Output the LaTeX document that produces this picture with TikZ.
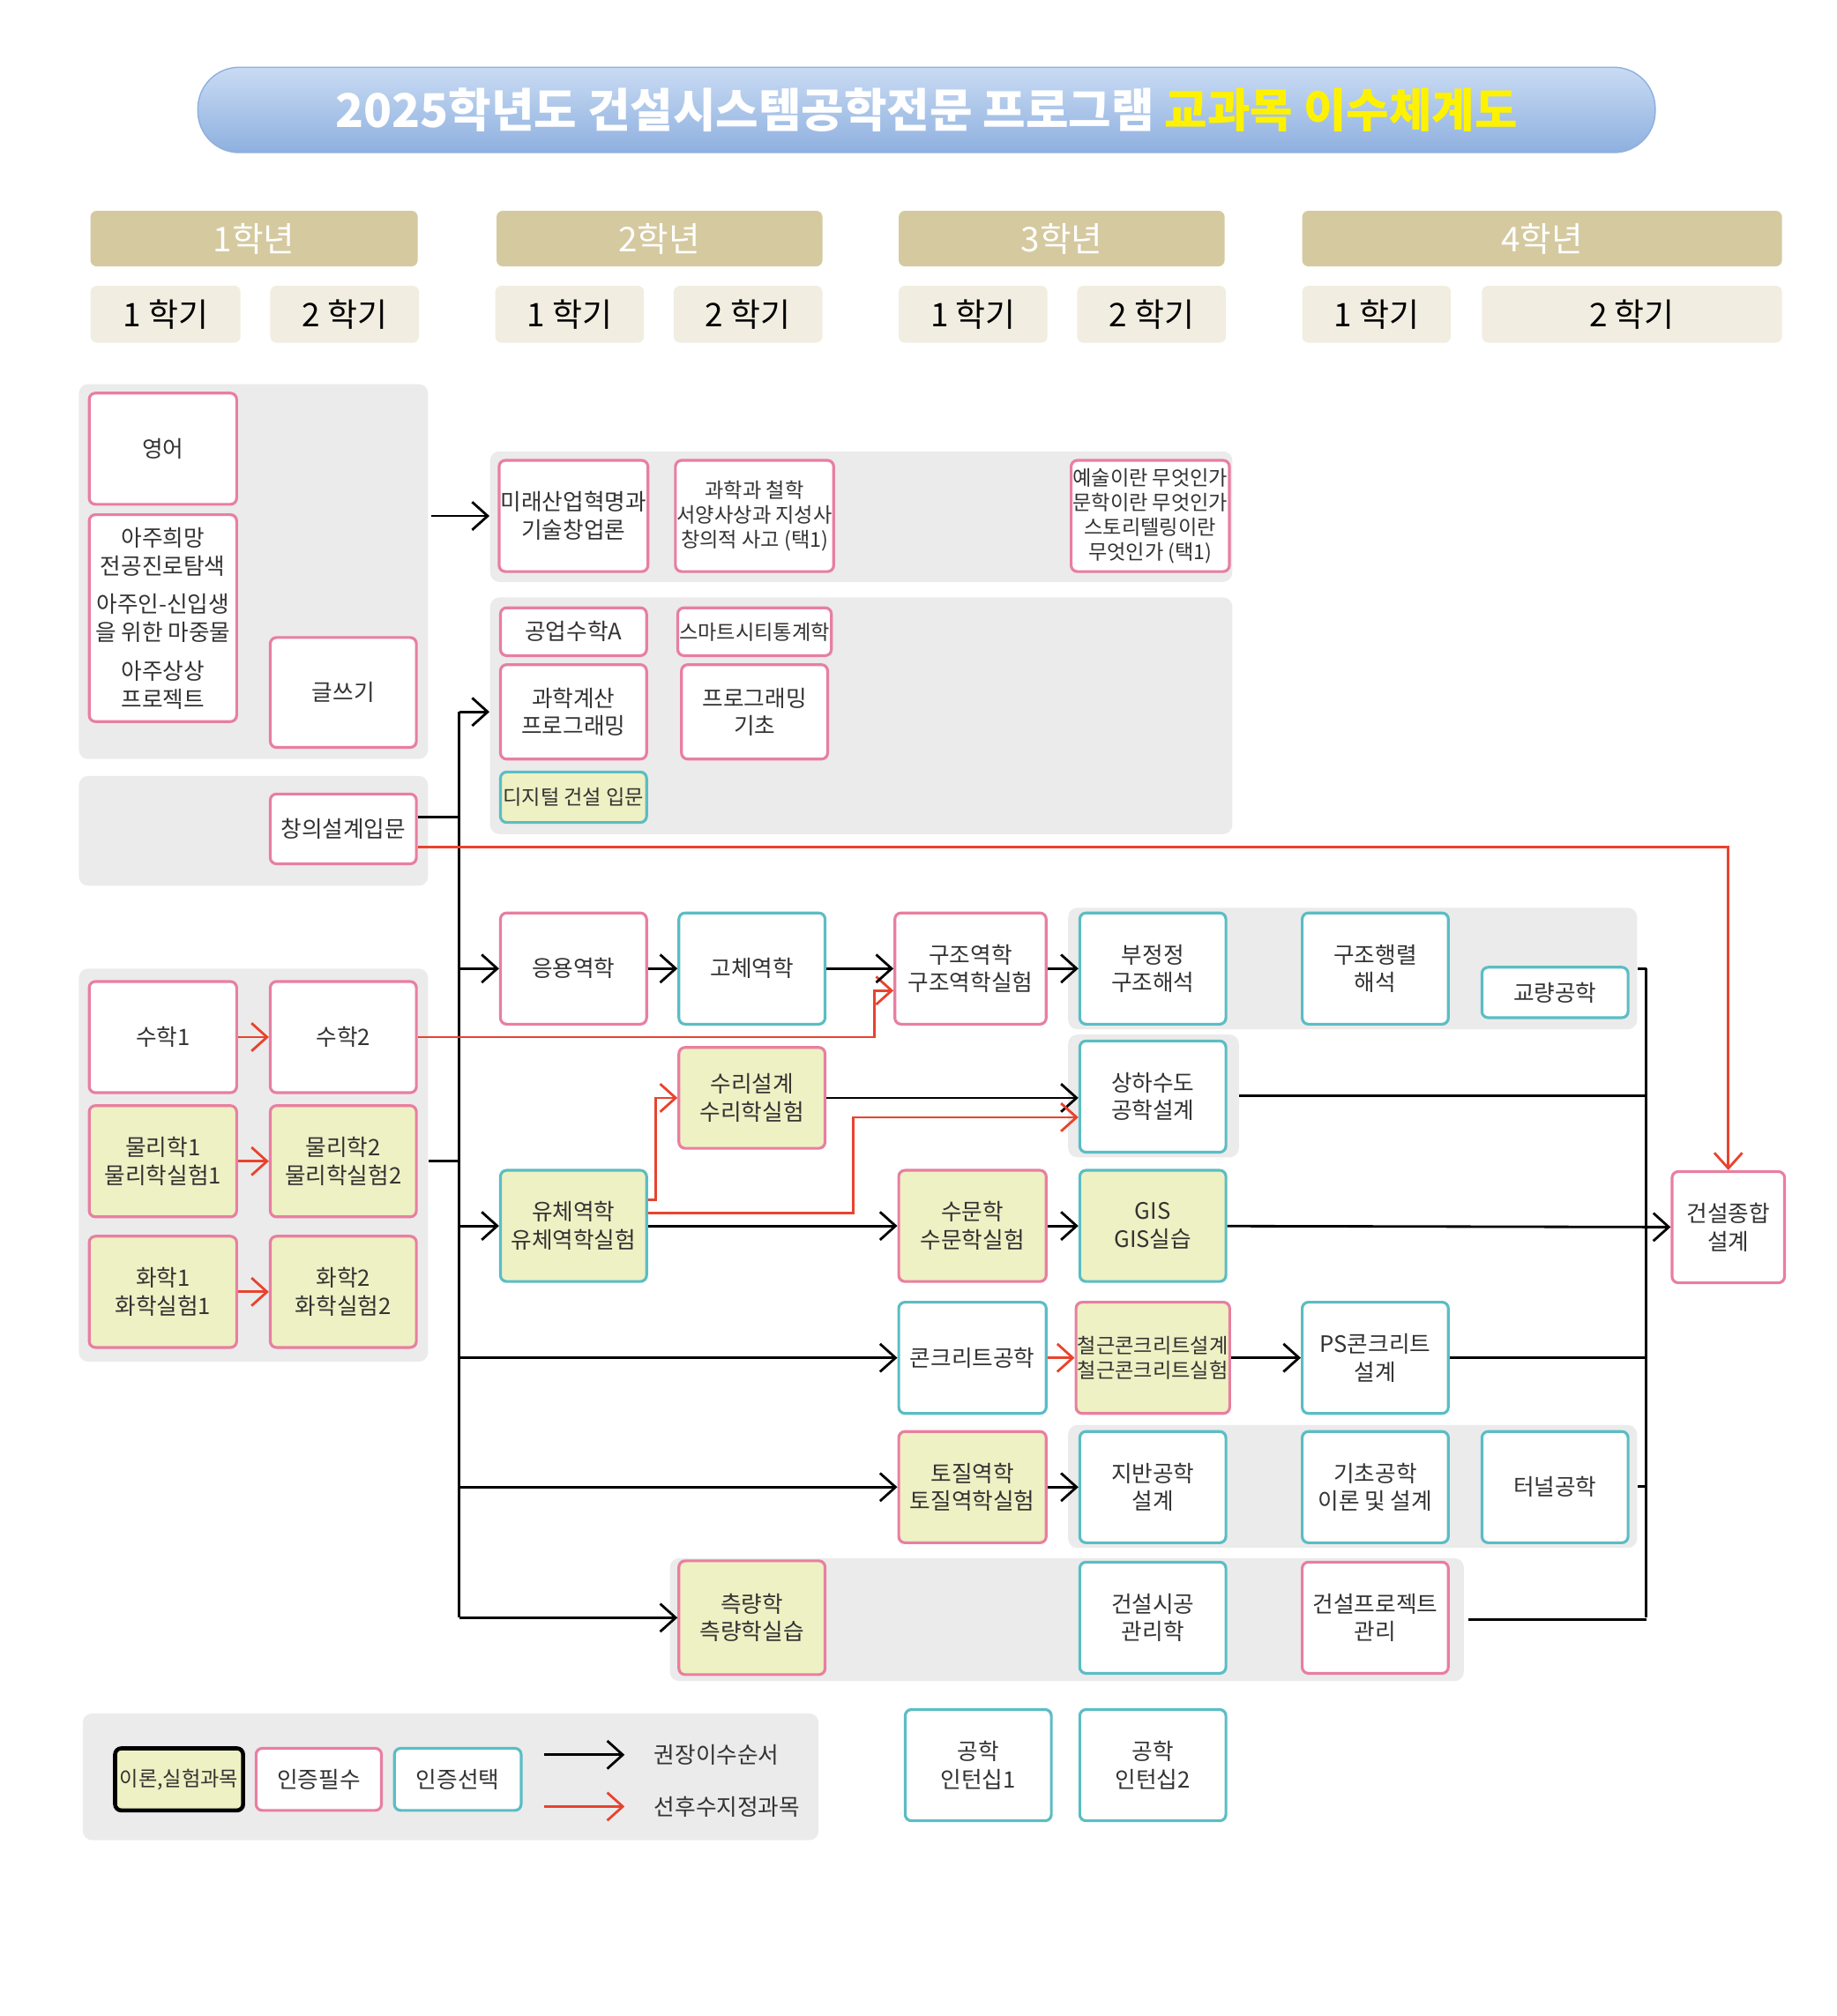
\documentclass[tikz,border=0pt]{standalone}
\usepackage{fontspec}
\setmainfont{Noto Sans CJK KR}
\usetikzlibrary{arrows.meta,positioning}
\newlength\ux
\setlength\ux{0.014662cm}
\definecolor{pinkline}{HTML}{E87FA0}
\definecolor{tealline}{HTML}{5BBDC4}
\definecolor{labfill}{HTML}{EEF1C3}
\definecolor{panelgray}{HTML}{EBEBEB}
\definecolor{redarrow}{HTML}{E8432E}
\definecolor{tanhead}{HTML}{D5C9A0}
\definecolor{semfill}{HTML}{F1EDE0}
\definecolor{txtgray}{HTML}{333333}
\definecolor{titletop}{HTML}{C9DBF3}
\definecolor{titlebot}{HTML}{8EB0DF}
\definecolor{titleyellow}{HTML}{FFF200}
\tikzset{
  course/.style={draw, rounded corners=2pt, line width=0.9pt, fill=white, align=center,
    text=txtgray, font=\fontsize{7.3}{9}\selectfont, inner sep=0.5pt,
    minimum width=113\ux, minimum height=86\ux},
  smalltxt/.style={font=\fontsize{6.6}{8}\selectfont},
  pinkbox/.style={course, draw=pinkline},
  tealbox/.style={course, draw=tealline},
  labpink/.style={course, draw=pinkline, fill=labfill},
  labteal/.style={course, draw=tealline, fill=labfill},
  panel/.style={fill=panelgray, rounded corners=3pt, inner sep=0pt},
  yearhead/.style={fill=tanhead, rounded corners=2pt, text=white, font=\fontsize{11}{12}\selectfont,
    minimum height=43\ux, inner sep=0pt},
  semhead/.style={fill=semfill, rounded corners=2pt, text=black, font=\fontsize{10.5}{12}\selectfont,
    minimum height=44\ux, inner sep=0pt},
  arr/.style={-{Straight Barb[length=5pt,width=9pt]}, line width=0.8pt},
  redarr/.style={arr, draw=redarrow},
  blk/.style={line width=0.8pt},
}
\begin{document}
\begin{tikzpicture}[x=0.014662cm,y=-0.014662cm]
\useasboundingbox (0,0) rectangle (1420,1559);

% title
\node[rounded corners=32\ux, top color=titletop, bottom color=titlebot, draw=titlebot,
  minimum width=1127\ux, minimum height=66\ux, text=white, font=\bfseries\fontsize{15}{16}\selectfont] (title)
  at (716.5,85) {2025학년도 건설시스템공학전문 프로그램 \textcolor{titleyellow}{교과목 이수체계도}};

% years and semesters
\node[yearhead, minimum width=253\ux] (y1) at (196.5,184.5) {1학년};
\node[yearhead, minimum width=252\ux] (y2) at (510,184.5) {2학년};
\node[yearhead, minimum width=252\ux] (y3) at (821,184.5) {3학년};
\node[yearhead, minimum width=371\ux] (y4) at (1192.5,184.5) {4학년};
\node[semhead, minimum width=116\ux] (s11) at (128,243) {1 학기};
\node[semhead, minimum width=115\ux] (s12) at (266.5,243) {2 학기};
\node[semhead, minimum width=115\ux] (s21) at (440.5,243) {1 학기};
\node[semhead, minimum width=115\ux] (s22) at (578.5,243) {2 학기};
\node[semhead, minimum width=115\ux] (s31) at (752.5,243) {1 학기};
\node[semhead, minimum width=115\ux] (s32) at (890.5,243) {2 학기};
\node[semhead, minimum width=115\ux] (s41) at (1064.5,243) {1 학기};
\node[semhead, minimum width=232\ux] (s42) at (1262,243) {2 학기};

% panels
\node[panel, minimum width=270\ux, minimum height=290\ux] (p1) at (196,442) {};
\node[panel, minimum width=270\ux, minimum height=85\ux] (p2) at (196,642.5) {};
\node[panel, minimum width=574\ux, minimum height=101\ux] (p3) at (666,399.5) {};
\node[panel, minimum width=574\ux, minimum height=183\ux] (p4) at (666,553.5) {};
\node[panel, minimum width=440\ux, minimum height=94\ux] (p5) at (1046,749) {};
\node[panel, minimum width=132\ux, minimum height=95\ux] (p6) at (892,847.5) {};
\node[panel, minimum width=270\ux, minimum height=304\ux] (p7) at (196,901) {};
\node[panel, minimum width=440\ux, minimum height=95\ux] (p8) at (1046,1149.5) {};
\node[panel, minimum width=614\ux, minimum height=95\ux] (p9) at (825,1252.5) {};
\node[panel, minimum width=569\ux, minimum height=98\ux] (leg) at (348.5,1374) {};

% 1st year
\node[pinkbox, minimum width=114\ux] (yeong) at (126,347) {영어};
\node[pinkbox, minimum width=114\ux, minimum height=160\ux] (aju) at (126,478) {};
\node[align=center, text=txtgray, font=\fontsize{7.3}{9}\selectfont] (aju1) at (126,427) {아주희망\\전공진로탐색};
\node[align=center, text=txtgray, font=\fontsize{7.3}{9}\selectfont] (aju2) at (126,478) {아주인-신입생\\을 위한 마중물};
\node[align=center, text=txtgray, font=\fontsize{7.3}{9}\selectfont] (aju3) at (126,530) {아주상상\\프로젝트};
\node[pinkbox, minimum height=85\ux] (geul) at (265.5,535.5) {글쓰기};
\node[pinkbox, minimum height=54\ux] (chang) at (265.5,641) {창의설계입문};

% 2nd year liberal
\node[pinkbox] (mirae) at (443.5,399) {미래산업혁명과\\기술창업론};
\node[pinkbox, smalltxt] (gwahak) at (583.5,399) {과학과 철학\\서양사상과 지성사\\창의적 사고 (택1)};
\node[pinkbox, smalltxt] (yesul) at (889.5,399) {예술이란 무엇인가\\문학이란 무엇인가\\스토리텔링이란\\무엇인가 (택1)};
\node[pinkbox, minimum height=37\ux] (gongsu) at (443.5,488.5) {공업수학A};
\node[pinkbox, smalltxt, minimum height=37\ux] (smart) at (583.5,488.5) {스마트시티통계학};
\node[pinkbox, minimum height=73\ux] (gwagye) at (443.5,550.5) {과학계산\\프로그래밍};
\node[pinkbox, minimum height=73\ux] (progi) at (583.5,550.5) {프로그래밍\\기초};
\node[labteal, smalltxt, minimum height=39\ux] (digital) at (443.5,616.5) {디지털 건설 입문};

% major courses
\node[pinkbox] (eungyong) at (443.5,749) {응용역학};
\node[tealbox] (goche) at (581.5,749) {고체역학};
\node[pinkbox, minimum width=117\ux] (gujo) at (750.5,749) {구조역학\\구조역학실험};
\node[tealbox] (bujeong) at (891.5,749) {부정정\\구조해석};
\node[tealbox] (haengryeol) at (1063.5,749) {구조행렬\\해석};
\node[tealbox, minimum height=39\ux] (gyoryang) at (1202.5,767.5) {교량공학};
\node[pinkbox, minimum width=114\ux] (su1) at (126,802) {수학1};
\node[pinkbox] (su2) at (265.5,802) {수학2};
\node[labpink, minimum width=114\ux] (mul1) at (126,898) {물리학1\\물리학실험1};
\node[labpink] (mul2) at (265.5,898) {물리학2\\물리학실험2};
\node[labpink, minimum width=114\ux] (hwa1) at (126,999) {화학1\\화학실험1};
\node[labpink] (hwa2) at (265.5,999) {화학2\\화학실험2};
\node[labpink, minimum height=78\ux] (suri) at (581.5,849) {수리설계\\수리학실험};
\node[tealbox] (sangha) at (891.5,848) {상하수도\\공학설계};
\node[labteal] (yuche) at (443.5,948) {유체역학\\유체역학실험};
\node[labpink, minimum width=114\ux] (sumun) at (752,948) {수문학\\수문학실험};
\node[labteal] (gis) at (891.5,948) {GIS\\GIS실습};
\node[pinkbox, minimum width=87\ux] (jonghap) at (1336.5,949) {건설종합\\설계};
\node[tealbox, minimum width=114\ux] (concrete) at (752,1050) {콘크리트공학};
\node[labpink, smalltxt] (rc) at (891.5,1050) {철근콘크리트설계\\철근콘크리트실험};
\node[tealbox] (ps) at (1063.5,1050) {PS콘크리트\\설계};
\node[labpink, minimum width=114\ux] (tojil) at (752,1150) {토질역학\\토질역학실험};
\node[tealbox] (jiban) at (891.5,1150) {지반공학\\설계};
\node[tealbox] (gicho) at (1063.5,1150) {기초공학\\이론 및 설계};
\node[tealbox] (tunnel) at (1202.5,1150) {터널공학};
\node[labpink, minimum height=88\ux] (cheuk) at (581.5,1251) {측량학\\측량학실습};
\node[tealbox] (sigong) at (891.5,1251) {건설시공\\관리학};
\node[pinkbox] (project) at (1063.5,1251) {건설프로젝트\\관리};
\node[tealbox] (intern1) at (756.5,1365) {공학\\인턴십1};
\node[tealbox] (intern2) at (891.5,1365) {공학\\인턴십2};

% trunk and bus
\coordinate (trunk) at (355,0);
\coordinate (bus) at (1273,0);
\draw[arr] (p1.east |- mirae) ++(2,0) -- (p3.west |- mirae);
\draw[blk] (trunk |- gwagye) -- (trunk |- cheuk);
\draw[blk] (chang.east |- 0,632) -- (trunk |- 0,632);
\draw[blk] (p7.east |- mul2) -- (trunk |- mul2);
\draw[arr] (trunk |- gwagye) -- (p4.west |- gwagye);
\draw[arr] (trunk |- eungyong) -- (eungyong.west);
\draw[arr] (trunk |- yuche) -- (yuche.west);
\draw[arr] (trunk |- concrete) -- (concrete.west);
\draw[arr] (trunk |- tojil) -- (tojil.west);
\draw[arr] (trunk |- cheuk) -- (cheuk.west);

% first year red arrows
\draw[redarr] (su1) -- (su2);
\draw[redarr] (mul1) -- (mul2);
\draw[redarr] (hwa1) -- (hwa2);
\draw[redarr] (chang.east |- 0,655) -| (jonghap.north);
\draw[redarr] (su2.east) -- (676,802) -- (676,766) -- (gujo.west |- 0,766);

% structure row
\draw[arr] (eungyong) -- (goche);
\draw[arr] (goche) -- (gujo);
\draw[arr] (gujo) -- (bujeong);

% water
\draw[redarr] (yuche.east |- 0,928) -- (507,928) |- (suri.west);
\draw[arr] (suri.east) -- (sangha.west |- suri.east);
\draw[redarr] (yuche.east |- 0,938) -| (660,864) -- (sangha.west |- 0,864);
\draw[arr] (yuche) -- (sumun);
\draw[arr] (sumun) -- (gis);
\draw[arr] (gis) -- (jonghap);

% concrete and soil
\draw[redarr] (concrete) -- (rc);
\draw[arr] (rc) -- (ps);
\draw[arr] (tojil) -- (jiban);

% right bus
\draw[blk] (bus |- p5.east) -- (bus |- project);
\draw[blk] (p5.east) -- (bus |- p5.east);
\draw[blk] (p6.east) -- (bus |- p6.east);
\draw[blk] (ps.east) -- (bus |- ps.east);
\draw[blk] (p8.east) -- (bus |- p8.east);
\draw[blk] (p9.east) ++(3,0) -- (bus |- p9.east);

% legend
\node[course, smalltxt, draw=black, fill=labfill, line width=1.3pt, minimum width=99\ux, minimum height=48\ux] (lgtheory) at (138.5,1376) {이론,실험과목};
\node[pinkbox, minimum width=97\ux, minimum height=48\ux] (lgmust) at (246.5,1376) {인증필수};
\node[tealbox, minimum width=98\ux, minimum height=48\ux] (lgsel) at (354,1376) {인증선택};
\coordinate (lga) at (421,1357);
\coordinate (lgb) at (421,1397);
\draw[arr] (lga) -- ++(62,0) node[right=14\ux, text=txtgray, font=\fontsize{7.3}{9}\selectfont] (lgrec) {권장이수순서};
\draw[redarr] (lgb) -- ++(62,0) node[right=14\ux, text=txtgray, font=\fontsize{7.3}{9}\selectfont] (lgpre) {선후수지정과목};
\end{tikzpicture}
\end{document}
